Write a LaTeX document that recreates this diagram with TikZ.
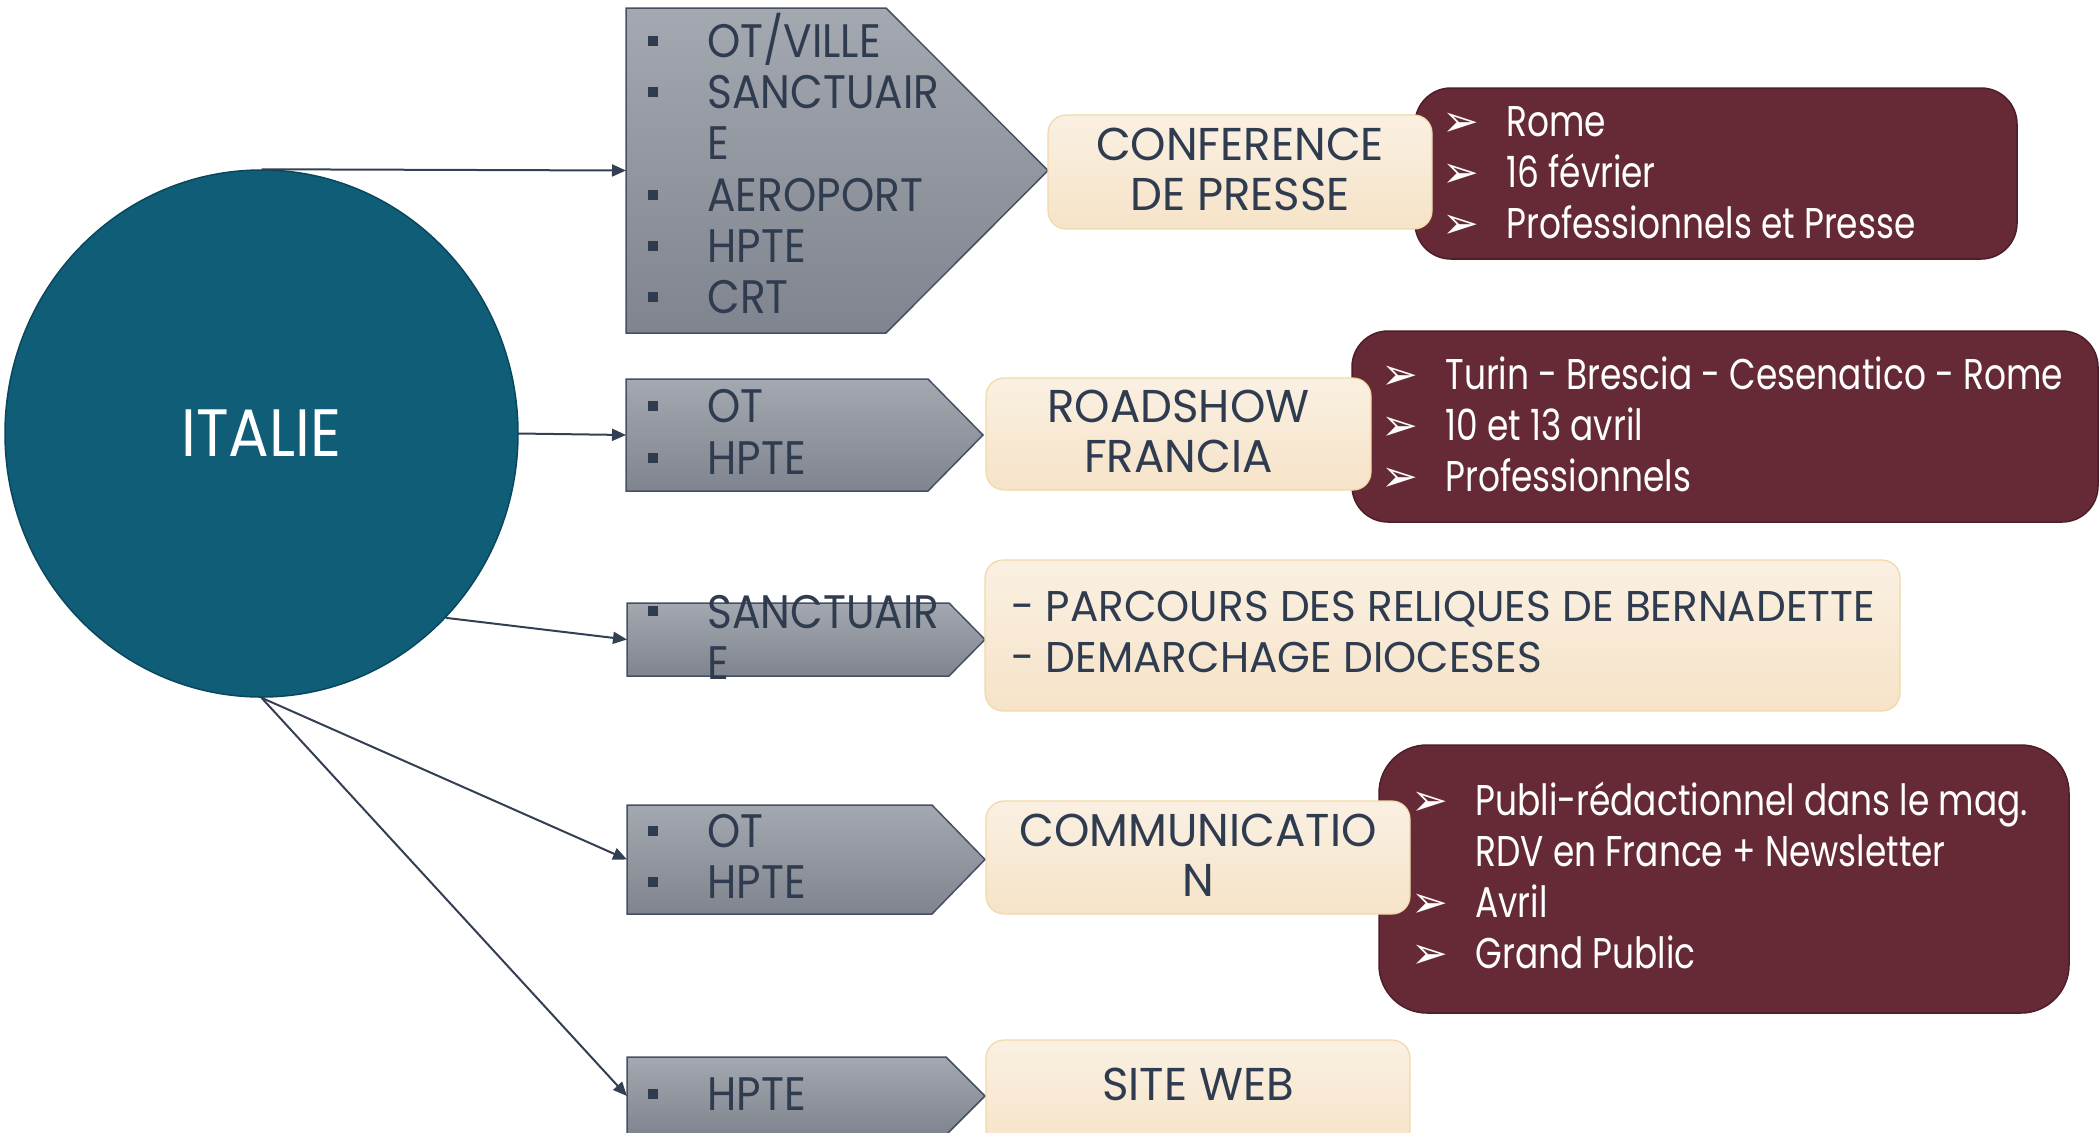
\documentclass[tikz,border=0pt]{standalone}
\usepackage{fontspec}
\setmainfont{Poppins}[FakeStretch=0.9]
\newfontfamily\creamf{Poppins}[FakeStretch=0.98]
\newfontfamily\marf{Poppins}[FakeStretch=0.8]
\newfontfamily\dvs{DejaVu Sans}
\usetikzlibrary{arrows.meta,shapes.geometric}
\definecolor{txt}{HTML}{2F3C4F}
\definecolor{chevT}{HTML}{A4A8B0}
\definecolor{chevBot}{HTML}{7F848E}
\definecolor{chevB}{HTML}{465064}
\definecolor{creamT}{HTML}{FAF0E2}
\definecolor{creamBot}{HTML}{F6E3C8}
\definecolor{creamB}{HTML}{F2D8A8}
\definecolor{mar}{HTML}{662A36}
\definecolor{marB}{HTML}{4C1E28}
\definecolor{circ}{HTML}{0F5D76}
\definecolor{circB}{HTML}{0B475C}
\definecolor{arr}{HTML}{333F52}
\newcommand\fs[2]{\fontsize{#1}{#2}\selectfont}
\newcommand\gbul{\makebox[29.5pt][l]{\rule[5.8pt]{5pt}{5pt}}}
\newcommand\gind{\hspace*{29.5pt}}
\newcommand\mbul{\makebox[29pt][l]{\hspace*{-3pt}\smash{\dvs\fontsize{22}{22}\selectfont ➢}}}
\newcommand\mind{\hspace*{29pt}}
\begin{document}
\begin{tikzpicture}[x=0.5pt,y=-0.5pt,
  chev/.style={draw=chevB, line width=0.75pt, top color=chevT, bottom color=chevBot},
  chevtext/.style={anchor=west, inner sep=0pt, align=left, text=txt, font=\fs{23.5}{25.6}},
  cream/.style={rounded corners=9pt, draw=creamB, line width=0.6pt, top color=creamT, bottom color=creamBot, inner sep=0pt},
  creamtext/.style={inner sep=0pt, align=center, text=txt, font=\creamf\fs{23}{25}},
  maroon/.style={rounded corners=18pt, draw=marB, fill=mar, line width=0.75pt, inner sep=0pt},
  martext/.style={anchor=west, inner sep=0pt, align=left, text=white, font=\marf\fs{21.5}{25.5}},
  conn/.style={draw=arr, line width=1pt, -{Triangle[length=7pt,width=6pt]}}]
\useasboundingbox (0,0) rectangle (2099,1132);

% central circle
\node[ellipse, minimum width=256.5pt, minimum height=263.5pt, inner sep=0pt, fill=circ, draw=circB, line width=0.75pt, text=white, font=\fs{33.5}{40}] (italie) at (261.5,433.5) {ITALIE};

% chevrons
\path[chev] (626,8) -- (886,8) -- (1048,170.5) -- (886,333) -- (626,333) -- cycle;
\path[chev] (626,379) -- (928,379) -- (983,435) -- (928,491) -- (626,491) -- cycle;
\path[chev] (627,603) -- (949,603) -- (985,639.5) -- (949,676) -- (627,676) -- cycle;
\path[chev] (627,805) -- (932,805) -- (985,859.5) -- (932,914) -- (627,914) -- cycle;
\path[chev] (627,1057) -- (946,1057) -- (985,1096) -- (946,1135) -- (627,1135) -- cycle;
\coordinate (g1) at (626,170.5);
\coordinate (g2) at (626,435);
\coordinate (g3) at (627,639.5);
\coordinate (g4) at (627,859.5);
\coordinate (g5) at (627,1096);

\node[chevtext] (g1t) at (648,163.5) {\gbul OT/VILLE\\\gbul SANCTUAIR\\\gind E\\\gbul AEROPORT\\\gbul HPTE\\\gbul CRT};
\node[chevtext] (g2t) at (648,432) {\gbul OT\\\gbul HPTE};
\node[chevtext] (g3t) at (648,637) {\gbul SANCTUAIR\\\gind E};
\node[chevtext] (g4t) at (648,856.5) {\gbul OT\\\gbul HPTE};
\node[chevtext] (g5t) at (648,1094) {\gbul HPTE};

% maroon boxes
\node[maroon, minimum width=301pt, minimum height=85.5pt] (m1) at (1716,173.5) {};
\node[maroon, minimum width=373pt, minimum height=95.5pt] (m2) at (1725,426.5) {};
\node[maroon, minimum width=345pt, minimum height=134pt, rounded corners=24pt] (m3) at (1724,879) {};

\node[martext] (m1t) at (1448,173) {\mbul Rome\\\mbul 16 février\\\mbul Professionnels et Presse};
\node[martext] (m2t) at (1387,424) {\mbul Turin - Brescia - Cesenatico - Rome\\\mbul 10 et 13 avril\\\mbul Professionnels};
\node[martext] (m3t) at (1417,875.5) {\mbul Publi-rédactionnel dans le mag.\\\mind RDV en France + Newsletter\\\mbul Avril\\\mbul Grand Public};

% cream boxes
\node[cream, minimum width=192pt, minimum height=57pt] (c1) at (1240,172) {};
\node[creamtext] (c1t) at (1240,169.5) {CONFERENCE\\DE PRESSE};
\node[cream, minimum width=192.5pt, minimum height=56pt] (c2) at (1178.5,434) {};
\node[creamtext] (c2t) at (1178.5,431.3) {ROADSHOW\\FRANCIA};
\node[cream, minimum width=457.5pt, minimum height=75.5pt] (c3) at (1442.5,635.5) {};
\node[creamtext, anchor=west, align=left, font=\creamf\fs{21.5}{25.5}] (c3t) at (1011,632) {- PARCOURS DES RELIQUES DE BERNADETTE\\- DEMARCHAGE DIOCESES};
\node[cream, minimum width=212pt, minimum height=56.5pt] (c4) at (1198,857.5) {};
\node[creamtext] (c4t) at (1198,855.5) {COMMUNICATIO\\N};
\node[cream, minimum width=212pt, minimum height=55pt] (c5) at (1198,1095) {};
\node[creamtext] (c5t) at (1198,1084.7) {SITE WEB};

% connectors
\draw[conn] (italie.north) -- (g1);
\draw[conn] (italie.east) -- (g2);
\draw[conn] (italie.-45) -- (g3);
\draw[conn] (italie.south) -- (g4);
\draw[conn] (italie.south) -- (g5);
\end{tikzpicture}
\end{document}
